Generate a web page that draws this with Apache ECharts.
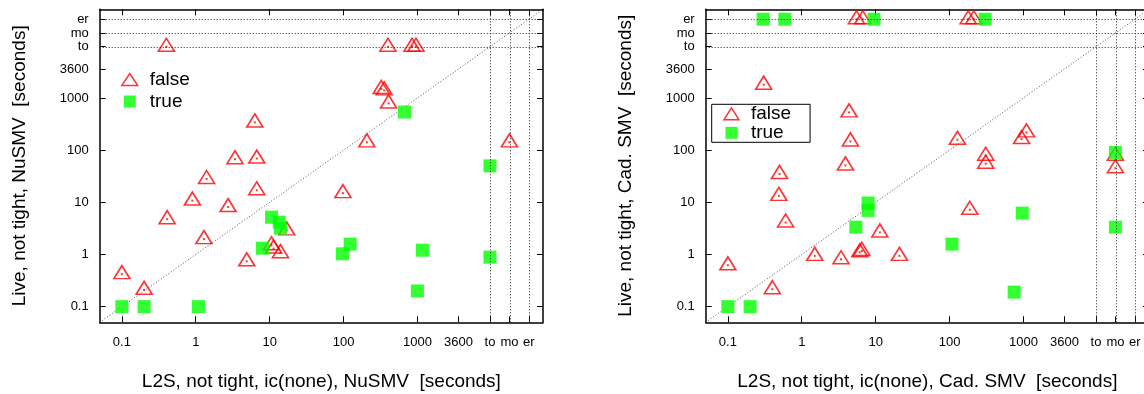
<!DOCTYPE html>
<html><head><meta charset="utf-8">
<script src="https://cdn.jsdelivr.net/npm/echarts@6/dist/echarts.min.js"></script>
<style>html,body{margin:0;padding:0;background:#fff}#c{width:1144px;height:394px}</style>
</head><body><div id="c"></div>
<script>
// Sentinel positions (seconds) used for timeout / memout / error outcomes
const SENTINELS = { to: 9600, mo: 17600, er: 32300 };
const tickValues = [0.1, 1, 10, 100, 1000, 3600, 'to', 'mo', 'er'];
const tickLabels = ['0.1', '1', '10', '100', '1000', '3600', 'to', 'mo', 'er'];

const leftXName = 'L2S, not tight, ic(none), NuSMV  [seconds]';
const leftYName = 'Live, not tight, NuSMV  [seconds]';
const rightXName = 'L2S, not tight, ic(none), Cad. SMV  [seconds]';
const rightYName = 'Live, not tight, Cad. SMV  [seconds]';

// [L2S time, Live time]
const nusmvFalse = [
  [0.40,'to'],[399,'to'],[845,'to'],[957,'to'],
  [6.3,340],[3.4,67],[6.7,69],[1.4,28],[6.7,17],[0.90,10.8],[0.41,4.75],[2.74,8.1],
  [1.29,1.97],[4.9,0.74],[0.1,0.42],[0.2,0.21],
  [10.6,1.5],[11.3,1.3],[14,1.06],[17,2.9],
  [98,15],[324,1490],[355,1400],[407,787],[207,141],['mo',141]
];
const nusmvTrue = [
  [0.1,0.1],[0.2,0.1],[1.09,0.1],[10.6,5.2],[13.5,4.17],[14,3.2],[8.0,1.32],
  [123,1.58],[97,1.03],[1170,1.21],[1000,0.2],['to',0.89],[670,538],['to',50]
];
const cadFalse = [
  [0.305,1800],[4.37,530],[4.56,147],[3.9,51],[0.50,35],[0.49,13.3],[0.605,4.1],
  [0.1,0.62],[0.40,0.216],[1.5,0.94],[3.4,0.81],[6.1,1.1],[6.5,1.17],[11.4,2.65],
  [21,0.94],[188,7.2],[128,158],[1100,219],[945,163],[309,78],[309,55],
  ['mo',78],['mo',45],[5.5,'er'],[6.7,'er'],[179,'er'],[213,'er']
];
const cadTrue = [
  [0.30,'er'],[0.59,'er'],[9.5,'er'],[303,'er'],[0.1,0.1],[0.2,0.1],[5.4,3.34],
  [7.9,9.7],[7.9,7.0],[964,6.2],[108,1.58],[750,0.19],['mo',3.34],['mo',90]
];

const FONT = 'Liberation Sans, Arial, sans-serif';
const lg = v => Math.log10(typeof v === 'string' ? SENTINELS[v] : v);
const tickPos = tickValues.map(lg);
const lo = -1.3, hi = 4.7;
const fmt = v => { const i = tickPos.findIndex(p => Math.abs(p - v) < 1e-6); return i >= 0 ? tickLabels[i] : ''; };
const conv = arr => arr.map(([x, y]) => [lg(x), lg(y)]);

const grids = [
  { left: 99.7, top: 9.3, width: 443.3, height: 313, outerBoundsMode: 'none', containLabel: false },
  { left: 705.7, top: 9.3, width: 443.3, height: 313, outerBoundsMode: 'none', containLabel: false }
];

function mainX(gi, name) {
  return { gridIndex: gi, type: 'value', min: lo, max: hi, position: 'bottom',
    axisLine: { onZero: false, lineStyle: { color: '#000', width: 1.5 } },
    axisTick: { inside: true, length: 6, customValues: tickPos, lineStyle: { color: '#000', width: 1 } },
    axisLabel: { customValues: tickPos, formatter: fmt, margin: 14, fontSize: 13, color: '#000', fontFamily: FONT },
    splitLine: { show: false },
    name: name, nameLocation: 'middle', nameGap: 50,
    nameTextStyle: { fontSize: 19, color: '#000', fontFamily: FONT } };
}
function mirrorX(gi) {
  return { gridIndex: gi, type: 'value', min: lo, max: hi, position: 'top',
    axisLine: { onZero: false, lineStyle: { color: '#000', width: 1.5 } },
    axisTick: { inside: true, length: 6, customValues: tickPos, lineStyle: { color: '#000', width: 1 } },
    axisLabel: { show: false }, splitLine: { show: false } };
}
function mainY(gi, name) {
  return { gridIndex: gi, type: 'value', min: lo, max: hi, position: 'left',
    axisLine: { onZero: false, lineStyle: { color: '#000', width: 1.5 } },
    axisTick: { inside: true, length: 6, customValues: tickPos, lineStyle: { color: '#000', width: 1 } },
    axisLabel: { customValues: tickPos, formatter: fmt, margin: 11, fontSize: 13, color: '#000', fontFamily: FONT },
    splitLine: { show: false },
    name: name, nameLocation: 'middle', nameGap: 70, nameRotate: 90,
    nameTextStyle: { fontSize: 19, color: '#000', fontFamily: FONT } };
}
function mirrorY(gi) {
  return { gridIndex: gi, type: 'value', min: lo, max: hi, position: 'right',
    axisLine: { onZero: false, lineStyle: { color: '#000', width: 1.5 } },
    axisTick: { inside: true, length: 6, customValues: tickPos, lineStyle: { color: '#000', width: 1 } },
    axisLabel: { show: false }, splitLine: { show: false } };
}

const sentinelLines = ['to', 'mo', 'er'].map(lg);
function guideSeries(xi, yi) {
  return { type: 'line', xAxisIndex: xi, yAxisIndex: yi, silent: true, symbol: 'none',
    data: [[lo, lo], [hi, hi]], lineStyle: { color: '#555', width: 1, type: [1, 2] }, z: 1,
    markLine: { silent: true, symbol: ['none', 'none'], label: { show: false },
      lineStyle: { color: '#222', width: 1, type: [1, 2] },
      data: sentinelLines.map(v => ({ xAxis: v })).concat(sentinelLines.map(v => ({ yAxis: v }))) } };
}
function falseSeries(xi, yi, data) {
  return [
    { name: 'false', type: 'scatter', xAxisIndex: xi, yAxisIndex: yi, data: conv(data),
      symbol: 'triangle', symbolSize: [16, 13], symbolOffset: [0, -2],
      itemStyle: { color: 'rgba(0,0,0,0)', borderColor: '#ff0000', borderWidth: 1.6 }, z: 3 },
    { name: 'false-center', type: 'scatter', xAxisIndex: xi, yAxisIndex: yi, data: conv(data), silent: true,
      symbol: 'rect', symbolSize: 2, itemStyle: { color: '#ff0000' }, z: 3 }
  ];
}
function trueSeries(xi, yi, data) {
  return { name: 'true', type: 'scatter', xAxisIndex: xi, yAxisIndex: yi, data: conv(data),
    symbol: 'rect', symbolSize: 13, itemStyle: { color: '#00ff00' }, z: 4 };
}

const legendData = [
  { name: 'false', icon: 'triangle', itemStyle: { color: 'rgba(0,0,0,0)', borderColor: '#ff0000', borderWidth: 1.5 } },
  { name: 'true', icon: 'path://M0,0h10v10h-10z', itemStyle: { color: '#00ff00', borderWidth: 0 } }
];

const option = {
  animation: false,
  backgroundColor: '#fff',
  grid: grids,
  xAxis: [mainX(0, leftXName), mirrorX(0), mainX(1, rightXName), mirrorX(1)],
  yAxis: [mainY(0, leftYName), mirrorY(0), mainY(1, rightYName), mirrorY(1)],
  legend: [
    { data: legendData, orient: 'vertical', left: 116, top: 65, itemWidth: 16, itemHeight: 12, itemGap: 3,
      selectedMode: false, symbolKeepAspect: true,
      textStyle: { fontSize: 19, color: '#000', fontFamily: FONT, padding: [0, 0, 0, 7] } },
    { data: legendData, orient: 'vertical', left: 711.7, top: 104.3, itemWidth: 15, itemHeight: 12, itemGap: 0,
      selectedMode: false, symbolKeepAspect: true, padding: [0, 19, 0, 11.5],
      borderColor: '#000', borderWidth: 1,
      textStyle: { fontSize: 19, color: '#000', fontFamily: FONT, padding: [0, 0, 0, 7] } }
  ],
  series: [
    guideSeries(0, 0),
    ...falseSeries(0, 0, nusmvFalse),
    trueSeries(0, 0, nusmvTrue),
    guideSeries(2, 2),
    ...falseSeries(2, 2, cadFalse),
    trueSeries(2, 2, cadTrue)
  ]
};
const chart = echarts.init(document.getElementById('c'), null, { renderer: 'canvas' });
chart.setOption(option);
</script>
</body></html>
